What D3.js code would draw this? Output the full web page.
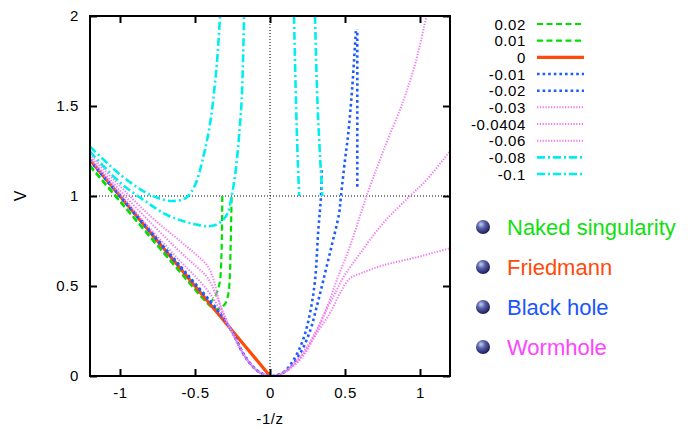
<!DOCTYPE html>
<html><head><meta charset="utf-8">
<script src="https://cdn.jsdelivr.net/npm/d3@7"></script>
<style>
html,body{margin:0;padding:0;background:#fff;}
svg{display:block;font-family:"Liberation Sans",Arial,Helvetica,sans-serif;}
</style></head>
<body>
<svg id="chart" width="694" height="428"></svg>
<script>
// ---------- data ----------
const xTicks = [-1, -0.5, 0, 0.5, 1];
const xTickLabels = ["-1", "-0.5", "0", "0.5", "1"];
const yTicks = [0, 0.5, 1, 1.5, 2];
const yTickLabels = ["0", "0.5", "1", "1.5", "2"];

const seriesLabels = ["0.02", "0.01", "0", "-0.01", "-0.02", "-0.03", "-0.0404", "-0.06", "-0.08", "-0.1"];

const g002 = [[-1.2,1.165],[-1.0,0.968],[-0.8,0.772],[-0.6,0.577],[-0.5,0.48],[-0.44,0.425],[-0.41,0.41],[-0.385,0.42],[-0.36,0.45],[-0.344,0.49],[-0.333,0.53],[-0.325,0.64],[-0.321,0.76],[-0.319,0.9],[-0.318,1.0]];
const g001 = [[-1.2,1.17],[-1.0,0.973],[-0.8,0.777],[-0.6,0.582],[-0.5,0.485],[-0.4,0.39],[-0.36,0.37],[-0.33,0.378],[-0.3,0.4],[-0.285,0.43],[-0.275,0.47],[-0.268,0.55],[-0.263,0.7],[-0.259,0.85],[-0.256,1.0]];
const r000 = [[-1.2,1.2],[0,0]];
const b001 = [[-1.2,1.195],[-1.0,0.997],[-0.8,0.8],[-0.6,0.605],[-0.5,0.508],[-0.4,0.412],[-0.333,0.346],[-0.29,0.295],[-0.244,0.232],[-0.178,0.124],[-0.111,0.049],[-0.05,0.012],[0.02,0.0],[0.09,0.02],[0.155,0.087],[0.22,0.2],[0.267,0.35],[0.3,0.53],[0.322,0.81],[0.34,1.0],[0.345,1.155],null,[0.582,1.052],[0.582,1.925]];
const b002 = [[-1.2,1.2],[-1.0,1.003],[-0.8,0.808],[-0.6,0.613],[-0.5,0.515],[-0.4,0.418],[-0.333,0.35],[-0.29,0.298],[-0.244,0.235],[-0.178,0.124],[-0.111,0.049],[-0.05,0.012],[0.02,0.0],[0.11,0.03],[0.2,0.125],[0.267,0.25],[0.31,0.38],[0.355,0.53],[0.41,0.72],[0.46,0.9],[0.473,1.0],[0.5,1.2],[0.522,1.35],[0.548,1.6],[0.573,1.925]];
const m003 = [[-1.2,1.205],[-1.0,1.01],[-0.8,0.82],[-0.6,0.64],[-0.5,0.555],[-0.42,0.48],[-0.37,0.42],[-0.33,0.36],[-0.29,0.3],[-0.244,0.225],[-0.178,0.12],[-0.111,0.048],[-0.05,0.01],[0.02,0.0],[0.08,0.015],[0.133,0.05],[0.22,0.13],[0.31,0.255],[0.378,0.38],[0.444,0.53],[0.533,0.72],[0.644,1.0],[0.755,1.25],[0.889,1.53],[0.97,1.74],[1.044,2.0],[1.06,2.05]];
const m0404 = [[-1.2,1.215],[-1.0,1.03],[-0.8,0.855],[-0.6,0.69],[-0.5,0.615],[-0.42,0.55],[-0.37,0.47],[-0.33,0.39],[-0.29,0.31],[-0.244,0.23],[-0.178,0.122],[-0.111,0.048],[-0.05,0.01],[0.02,0.0],[0.08,0.014],[0.133,0.045],[0.22,0.12],[0.31,0.245],[0.378,0.37],[0.44,0.47],[0.49,0.55],[0.6,0.68],[0.755,0.85],[0.933,1.0],[1.044,1.09],[1.2,1.25]];
const m006 = [[-1.2,1.23],[-1.0,1.055],[-0.8,0.89],[-0.6,0.75],[-0.5,0.68],[-0.42,0.615],[-0.378,0.54],[-0.344,0.43],[-0.31,0.34],[-0.27,0.27],[-0.244,0.235],[-0.178,0.124],[-0.111,0.049],[-0.05,0.012],[0.02,0.0],[0.08,0.013],[0.133,0.04],[0.22,0.11],[0.31,0.235],[0.4,0.35],[0.467,0.46],[0.53,0.54],[0.62,0.575],[0.755,0.615],[0.98,0.66],[1.2,0.71]];
const c008 = [[-1.2,1.247],[-1.0,1.075],[-0.82,0.965],[-0.7,0.9],[-0.6,0.866],[-0.5,0.843],[-0.42,0.832],[-0.36,0.84],[-0.31,0.87],[-0.28,0.91],[-0.256,1.0],[-0.235,1.1],[-0.215,1.25],[-0.2,1.4],[-0.189,1.53],[-0.18,1.75],[-0.173,2.0],null,[0.30,2.0],[0.316,1.53],[0.335,1.2],[0.349,1.0]];
const c010 = [[-1.2,1.274],[-1.0,1.12],[-0.85,1.03],[-0.75,0.99],[-0.65,0.972],[-0.56,0.99],[-0.5,1.06],[-0.444,1.22],[-0.4,1.4],[-0.37,1.6],[-0.35,1.78],[-0.333,2.0],null,[0.16,2.0],[0.173,1.53],[0.185,1.2],[0.195,1.0]];

const seriesData = [g002, g001, r000, b001, b002, m003, m0404, m006, c008, c010];

const classLabels = ["Naked singularity", "Friedmann", "Black hole", "Wormhole"];

// ---------- styles ----------
const GREEN = "#00e000", RED = "#ff4a0a", BLUE = "#1f5cff", MAG = "#f07cf0", CYAN = "#00eef0";
const seriesStyle = [
  {c: GREEN, w: 2.2, d: "6,3.5"},
  {c: GREEN, w: 2.2, d: "6,3.5"},
  {c: RED, w: 3.2, d: null},
  {c: BLUE, w: 2.6, d: "2.6,3"},
  {c: BLUE, w: 2.6, d: "2.6,3"},
  {c: MAG, w: 2, d: "1.3,1.5"},
  {c: MAG, w: 2, d: "1.3,1.5"},
  {c: MAG, w: 2, d: "1.3,1.5"},
  {c: CYAN, w: 2.6, d: "8,3,2,3"},
  {c: CYAN, w: 2.6, d: "8,3,2,3"}
];
const classColors = ["#10e010", "#ff4a0a", "#1a55ff", "#ff44ff"];

// ---------- chart ----------
const svg = d3.select("#chart");
const L = 90, R = 450, T = 16, B = 376;
const x = d3.scaleLinear().domain([-1.2, 1.2]).range([L, R]);
const y = d3.scaleLinear().domain([0, 2]).range([B, T]);

svg.append("defs").append("clipPath").attr("id", "clip")
  .append("rect").attr("x", L).attr("y", T).attr("width", R - L).attr("height", B - T);

// reference dotted lines
svg.append("line").attr("x1", x(-1.2)).attr("x2", x(1.2)).attr("y1", y(1)).attr("y2", y(1))
  .attr("stroke", "#000").attr("stroke-width", 1).attr("stroke-dasharray", "1,2");
svg.append("line").attr("x1", x(0)).attr("x2", x(0)).attr("y1", y(0)).attr("y2", y(2))
  .attr("stroke", "#000").attr("stroke-width", 1).attr("stroke-dasharray", "1,2");

// curves
const line = d3.line().defined(d => d !== null)
  .x(d => x(d[0])).y(d => y(d[1])).curve(d3.curveCatmullRom.alpha(0.5));
const gCurves = svg.append("g").attr("clip-path", "url(#clip)");
seriesData.forEach((s, i) => {
  const st = seriesStyle[i];
  gCurves.append("path").attr("d", line(s)).attr("fill", "none")
    .attr("stroke", st.c).attr("stroke-width", st.w)
    .attr("stroke-dasharray", st.d).attr("stroke-linejoin", "round");
});

// axes
const tickFont = g => g.selectAll("text").attr("font-size", 15).attr("fill", "#000")
  .attr("font-family", "Liberation Sans, Arial, sans-serif").attr("letter-spacing", "0.6px");
const axB = svg.append("g").attr("transform", `translate(0,${B})`)
  .call(d3.axisBottom(x).tickValues(xTicks).tickFormat((d, i) => xTickLabels[i]).tickSizeInner(-7).tickSizeOuter(0).tickPadding(11));
const axT = svg.append("g").attr("transform", `translate(0,${T})`)
  .call(d3.axisTop(x).tickValues(xTicks).tickFormat("").tickSizeInner(-7).tickSizeOuter(0));
const axL = svg.append("g").attr("transform", `translate(${L},0)`)
  .call(d3.axisLeft(y).tickValues(yTicks).tickFormat((d, i) => yTickLabels[i]).tickSizeInner(-7).tickSizeOuter(0).tickPadding(11));
const axR = svg.append("g").attr("transform", `translate(${R},0)`)
  .call(d3.axisRight(y).tickValues(yTicks).tickFormat("").tickSizeInner(-7).tickSizeOuter(0));
[axB, axT, axL, axR].forEach(a => {
  a.select(".domain").remove();
  a.selectAll(".tick line").attr("stroke", "#000").attr("stroke-width", 2);
  a.call(tickFont);
});
svg.append("rect").attr("x", L).attr("y", T).attr("width", R - L).attr("height", B - T)
  .attr("fill", "none").attr("stroke", "#000").attr("stroke-width", 2);

// axis titles
svg.append("text").attr("x", 270).attr("y", 418).attr("text-anchor", "middle")
  .attr("dominant-baseline", "central").attr("font-size", 15).attr("letter-spacing", "0.6px").text("-1/z");
svg.append("text").attr("transform", "translate(20,196) rotate(-90)").attr("text-anchor", "middle")
  .attr("dominant-baseline", "central").attr("font-size", 16).text("V");

// key
const key = svg.append("g");
seriesLabels.forEach((lab, i) => {
  const ky = 24 + i * 16.67;
  const st = seriesStyle[i];
  key.append("text").attr("x", 526).attr("y", ky).attr("text-anchor", "end")
    .attr("dominant-baseline", "central").attr("font-size", 15).attr("letter-spacing", "0.6px").text(lab);
  key.append("line").attr("x1", 537).attr("x2", 584).attr("y1", ky).attr("y2", ky)
    .attr("stroke", st.c).attr("stroke-width", st.w).attr("stroke-dasharray", st.d);
});

// class legend with spheres
const grad = svg.select("defs").append("radialGradient").attr("id", "ball")
  .attr("cx", "40%").attr("cy", "35%").attr("r", "65%").attr("fx", "35%").attr("fy", "30%");
grad.append("stop").attr("offset", "0%").attr("stop-color", "#c8cdf5");
grad.append("stop").attr("offset", "45%").attr("stop-color", "#5860a8");
grad.append("stop").attr("offset", "100%").attr("stop-color", "#1a1d55");
classLabels.forEach((lab, i) => {
  const cy = 227 + i * 40;
  svg.append("circle").attr("cx", 483).attr("cy", cy).attr("r", 7).attr("fill", "url(#ball)");
  svg.append("text").attr("x", 507).attr("y", cy).attr("dominant-baseline", "central")
    .attr("font-size", 22).attr("fill", classColors[i]).text(lab);
});
</script>
</body></html>
